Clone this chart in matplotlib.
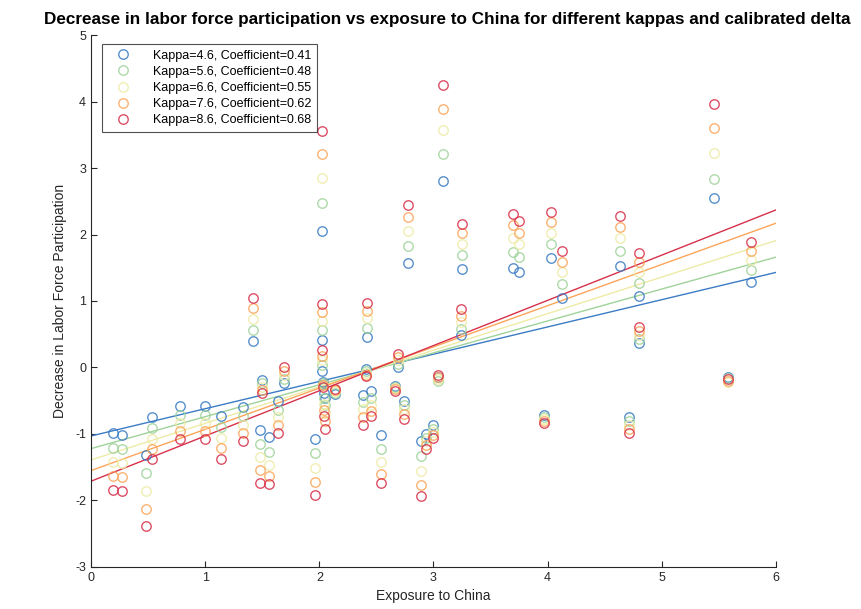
import numpy as np
import matplotlib
matplotlib.use("Agg")
import matplotlib.pyplot as plt

plt.rcParams['font.family'] = ['Liberation Sans', 'DejaVu Sans']
plt.rcParams['axes.unicode_minus'] = False

# exposure to China (x) for each region
exposure = [0.19, 0.27, 0.48, 0.53, 0.78, 1.00, 1.14, 1.33, 1.42, 1.48,
            1.50, 1.56, 1.64, 1.69, 1.96, 2.02, 2.02, 2.02, 2.03, 2.04,
            2.05, 2.14, 2.38, 2.41, 2.42, 2.45, 2.54, 2.66, 2.69, 2.74,
            2.78, 2.89, 2.93, 3.00, 3.04, 3.08, 3.24, 3.25, 3.70, 3.75,
            3.97, 4.03, 4.13, 4.63, 4.71, 4.80, 4.80, 5.46, 5.58, 5.78]

kappa_46 = [-0.99, -1.01, -1.31, -0.75, -0.58, -0.58, -0.73, -0.60, 0.40, -0.94,
            -0.19, -1.04, -0.51, -0.24, -1.08, 2.05, 0.42, -0.05, -0.22, -0.38,
            -0.46, -0.40, -0.42, -0.02, 0.46, -0.36, -1.02, -0.28, 0.01, -0.50,
            1.57, -1.10, -1.00, -0.87, -0.15, 2.80, 0.49, 1.48, 1.49, 1.44,
            -0.72, 1.64, 1.05, 1.53, -0.75, 1.08, 0.37, 2.55, -0.14, 1.28]

kappa_56 = [-1.21, -1.23, -1.58, -0.91, -0.71, -0.71, -0.89, -0.73, 0.57, -1.15,
            -0.24, -1.27, -0.64, -0.18, -1.29, 2.48, 0.57, 0.04, -0.24, -0.46,
            -0.57, -0.38, -0.52, -0.05, 0.60, -0.46, -1.22, -0.30, 0.06, -0.57,
            1.83, -1.33, -1.06, -0.92, -0.20, 3.21, 0.58, 1.69, 1.73, 1.66,
            -0.75, 1.85, 1.25, 1.75, -0.81, 1.27, 0.43, 2.84, -0.16, 1.46]

kappa_66 = [-1.42, -1.44, -1.86, -1.08, -0.83, -0.84, -1.06, -0.86, 0.73, -1.35,
            -0.29, -1.47, -0.75, -0.12, -1.51, 2.85, 0.70, 0.11, -0.26, -0.55,
            -0.68, -0.36, -0.62, -0.08, 0.74, -0.56, -1.42, -0.31, 0.11, -0.63,
            2.05, -1.56, -1.11, -0.97, -0.18, 3.57, 0.68, 1.86, 1.94, 1.86,
            -0.78, 2.03, 1.43, 1.95, -0.87, 1.44, 0.49, 3.23, -0.22, 1.62]

kappa_76 = [-1.63, -1.65, -2.13, -1.23, -0.95, -0.96, -1.21, -0.99, 0.89, -1.54,
            -0.34, -1.63, -0.87, -0.06, -1.72, 3.21, 0.83, 0.18, -0.27, -0.64,
            -0.80, -0.34, -0.74, -0.11, 0.85, -0.65, -1.60, -0.33, 0.16, -0.70,
            2.26, -1.77, -1.17, -1.02, -0.14, 3.89, 0.78, 2.02, 2.14, 2.03,
            -0.80, 2.19, 1.59, 2.12, -0.93, 1.58, 0.55, 3.60, -0.20, 1.75]

kappa_86 = [-1.84, -1.86, -2.39, -1.38, -1.08, -1.08, -1.37, -1.11, 1.04, -1.74,
            -0.38, -1.75, -0.98, 0.00, -1.92, 3.56, 0.96, 0.26, -0.29, -0.73,
            -0.92, -0.32, -0.86, -0.13, 0.97, -0.73, -1.74, -0.35, 0.21, -0.77,
            2.44, -1.93, -1.22, -1.06, -0.11, 4.25, 0.88, 2.16, 2.31, 2.20,
            -0.83, 2.34, 1.75, 2.28, -0.99, 1.72, 0.61, 3.96, -0.18, 1.88]

kappas = [4.6, 5.6, 6.6, 7.6, 8.6]
coefficients = [0.41, 0.48, 0.55, 0.62, 0.68]
intercepts = [-1.03, -1.22, -1.39, -1.55, -1.71]
series = [kappa_46, kappa_56, kappa_66, kappa_76, kappa_86]
colors = ['#3b7cc4', '#9fd39a', '#eeeba6', '#fca55a', '#d7304a']

fig = plt.figure(figsize=(8.62, 6.09), dpi=100)
ax = fig.add_axes([0.1056, 0.069, 0.7946, 0.8735])

x_line = np.array([0, 6])
for k, coef, b, ys, c in zip(kappas, coefficients, intercepts, series, colors):
    ax.plot(exposure, ys, 'o', markersize=6.8, markerfacecolor='none',
            markeredgecolor=c, markeredgewidth=1.0, alpha=0.85,
            label=f'Kappa={k}, Coefficient={coef:.2f}', zorder=3)
    ax.plot(x_line, b + coef * x_line, '-', color=c, linewidth=1.0, zorder=2)

ax.set_xlim(0, 6)
ax.set_ylim(-3, 5)
ax.set_xticks(range(0, 7))
ax.set_yticks(range(-3, 6))
ax.spines['top'].set_visible(False)
ax.spines['right'].set_visible(False)
for s in ['left', 'bottom']:
    ax.spines[s].set_color('#262626')
    ax.spines[s].set_linewidth(0.8)
ax.tick_params(direction='in', length=4, width=0.8, colors='#262626', labelsize=9)

ax.set_xlabel('Exposure to China', fontsize=10, color='#262626', labelpad=4)
ax.set_ylabel('Decrease in Labor Force Participation', fontsize=10, color='#262626', labelpad=6)
fig.text(0.519, 0.968, 'Decrease in labor force participation vs exposure to China for different kappas and calibrated delta',
         ha='center', va='center', fontsize=12.3, fontweight='bold')

leg = ax.legend(loc='upper left', bbox_to_anchor=(0.016, 0.983), borderaxespad=0,
                fontsize=9, frameon=True, fancybox=False, edgecolor='#262626',
                labelspacing=0.33, handletextpad=1.1, borderpad=0.45, handlelength=2.5)
leg.get_frame().set_linewidth(0.8)

fig.savefig('out.png', dpi=100)
